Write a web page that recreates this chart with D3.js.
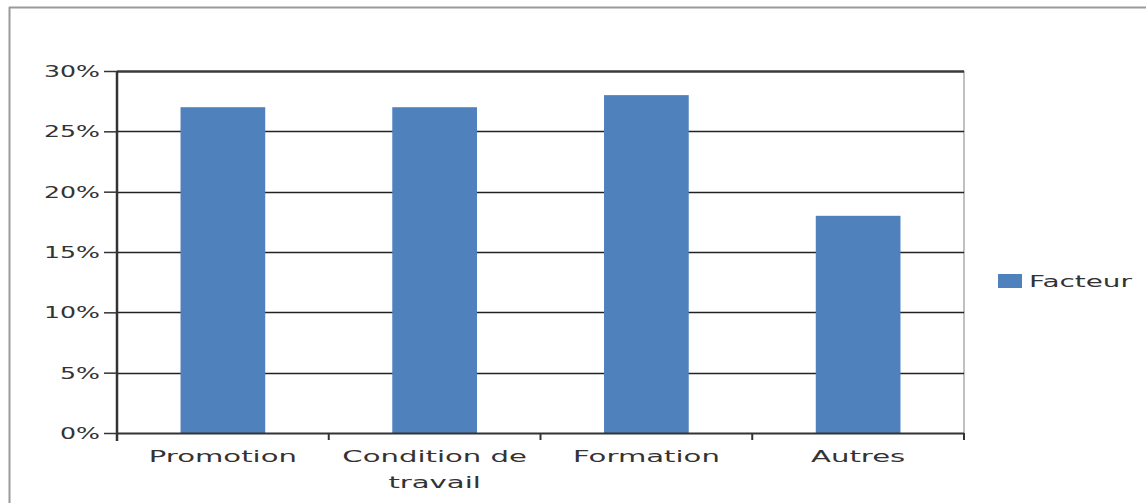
<!DOCTYPE html>
<html>
<head>
<meta charset="utf-8">
<script src="https://cdn.jsdelivr.net/npm/d3@7"></script>
<style>
  html, body { margin: 0; padding: 0; background: #fff; }
  svg { display: block; }
  text { font-family: "DejaVu Sans", Verdana, sans-serif; fill: #333; }
</style>
</head>
<body>
<script>
// Chart data
const categories = [["Promotion"], ["Condition de", "travail"], ["Formation"], ["Autres"]];
const categoryKeys = ["Promotion", "Condition de travail", "Formation", "Autres"];
const values = [0.27, 0.27, 0.28, 0.18];
const yTicks = [0, 0.05, 0.10, 0.15, 0.20, 0.25, 0.30];
const seriesName = "Facteur";

const W = 1146, H = 503;
const plot = { left: 117, right: 964, top: 71, bottom: 433 };
const barColor = "#4F81BD";
const stretchY = 1.68;   // wide lettering of the value labels
const stretchX = 1.82;   // wide lettering of the category labels
const stretchL = 1.74;   // wide lettering of the legend

const svg = d3.select("body").append("svg").attr("width", W).attr("height", H);

// outer frame (top and left edges)
svg.append("line").attr("x1", 9).attr("x2", W).attr("y1", 7.5).attr("y2", 7.5)
  .attr("stroke", "#9a9a9a").attr("stroke-width", 2);
svg.append("line").attr("x1", 9.5).attr("x2", 9.5).attr("y1", 7).attr("y2", H)
  .attr("stroke", "#9a9a9a").attr("stroke-width", 2);

const x = d3.scaleBand().domain(categoryKeys).range([plot.left, plot.right]).padding(0);
const y = d3.scaleLinear().domain([0, 0.30]).range([plot.bottom, plot.top]);

// right edge of plot area
svg.append("line").attr("x1", plot.right).attr("x2", plot.right)
  .attr("y1", plot.top).attr("y2", plot.bottom)
  .attr("stroke", "#c0c0c0").attr("stroke-width", 2);

// horizontal gridlines
svg.append("g").selectAll("line").data(yTicks.filter(d => d > 0)).join("line")
  .attr("x1", plot.left).attr("x2", plot.right)
  .attr("y1", d => Math.round(y(d)) + 0.5).attr("y2", d => Math.round(y(d)) + 0.5)
  .attr("stroke", d => d === 0.30 ? "#3a3a3a" : "#222").attr("stroke-width", d => d === 0.30 ? 2.5 : 1.3);

// bars
const barW = x.bandwidth() * 0.4;
svg.append("g").selectAll("rect").data(values).join("rect")
  .attr("x", (d, i) => x(categoryKeys[i]) + (x.bandwidth() - barW) / 2)
  .attr("y", d => y(d))
  .attr("width", barW)
  .attr("height", d => y(0) - y(d))
  .attr("fill", barColor);

// y axis
const yAxis = d3.axisLeft(y).tickValues(yTicks).tickSize(13).tickFormat(d => Math.round(d * 100) + "%");
const gy = svg.append("g").attr("transform", `translate(${plot.left},0)`).call(yAxis);
gy.select(".domain").attr("stroke", "#333").attr("stroke-width", 2.5)
  .attr("d", `M0,${plot.top}V${plot.bottom + 8}`);
gy.selectAll(".tick line").attr("stroke", "#333").attr("stroke-width", 1.5);
gy.selectAll(".tick text").remove();
gy.selectAll(".tick").append("text")
  .attr("text-anchor", "end")
  .attr("dy", "0.36em")
  .attr("transform", `translate(-17,0) scale(${stretchY},1)`)
  .attr("font-size", 15)
  .text(d => Math.round(d * 100) + "%");

// x axis with boundary ticks
const gx = svg.append("g");
gx.append("line").attr("x1", plot.left).attr("x2", plot.right)
  .attr("y1", plot.bottom + 0.5).attr("y2", plot.bottom + 0.5)
  .attr("stroke", "#333").attr("stroke-width", 2);
const bounds = categoryKeys.map(k => x(k)).concat([plot.right]);
gx.selectAll("line.tk").data(bounds).join("line").attr("class", "tk")
  .attr("x1", d => d).attr("x2", d => d)
  .attr("y1", plot.bottom).attr("y2", plot.bottom + 7)
  .attr("stroke", "#333").attr("stroke-width", 2);

// category labels
categories.forEach((lines, i) => {
  const cx = x(categoryKeys[i]) + x.bandwidth() / 2;
  lines.forEach((t, j) => {
    svg.append("text")
      .attr("transform", `translate(${cx},${462 + j * 26}) scale(${stretchX},1)`)
      .attr("text-anchor", "middle")
      .attr("font-size", 16)
      .text(t);
  });
});

// legend
svg.append("rect").attr("x", 998).attr("y", 274).attr("width", 24).attr("height", 14).attr("fill", barColor);
svg.append("text")
  .attr("transform", `translate(1029,281) scale(${stretchL},1)`)
  .attr("dy", "0.36em")
  .attr("font-size", 16)
  .text(seriesName);
</script>
</body>
</html>
